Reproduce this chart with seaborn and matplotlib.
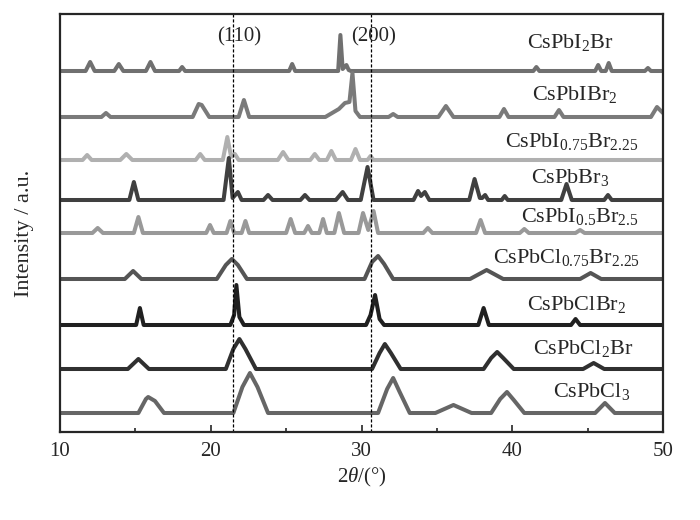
import pandas as pd
import matplotlib
matplotlib.use("Agg")
import matplotlib.pyplot as plt
from matplotlib.ticker import MultipleLocator
import seaborn as sns

# Зразки (згори вниз на графіку)
samples = ["CsPbI2Br", "CsPbIBr2", "CsPbI0.75Br2.25", "CsPbBr3", "CsPbI0.5Br2.5",
           "CsPbCl0.75Br2.25", "CsPbClBr2", "CsPbCl2Br", "CsPbCl3"]
labels = [r"CsPbI$_2$Br", r"CsPbIBr$_2$", r"CsPbI$_{0.75}$Br$_{2.25}$", r"CsPbBr$_3$",
          r"CsPbI$_{0.5}$Br$_{2.5}$", r"CsPbCl$_{0.75}$Br$_{2.25}$", r"CsPbClBr$_2$",
          r"CsPbCl$_2$Br", r"CsPbCl$_3$"]
offsets = [361, 315, 272, 232, 199, 153, 107, 63, 19]
colors = ["#707070", "#7a7a7a", "#b0b0b0", "#404040", "#999999",
          "#555555", "#202020", "#303030", "#666666"]

# Точки дифрактограм (2θ, інтенсивність над базовою лінією)
x_i2br = [10, 11.7, 12.0, 12.3, 13.6, 13.9, 14.2, 15.7, 16.0, 16.3, 17.9, 18.1, 18.3,
          25.2, 25.4, 25.6, 28.45, 28.6, 28.75, 29.0, 29.15, 29.3,
          41.4, 41.6, 41.8, 45.5, 45.7, 45.9, 46.2, 46.4, 46.6, 48.8, 49.0, 49.2, 50]
y_i2br = [0, 0, 9, 0, 0, 7, 0, 0, 9, 0, 0, 4, 0,
          0, 7, 0, 0, 36, 2, 6, 1, 0,
          0, 4, 0, 0, 6, 0, 0, 8, 0, 0, 3, 0, 0]

x_ibr2 = [10, 12.75, 13.05, 13.35, 18.8, 19.2, 19.4, 19.9, 21.85, 22.2, 22.55,
          27.6, 28.5, 28.9, 29.2, 29.4, 29.6, 29.9, 31.8, 32.1, 32.4, 35.1, 35.6, 36.1,
          39.15, 39.45, 39.75, 42.8, 43.1, 43.4, 49.2, 49.6, 50]
y_ibr2 = [0, 0, 4, 0, 0, 13, 12, 0, 0, 17, 0,
          0, 8, 14, 15, 44, 6, 0, 0, 3, 0, 0, 11, 0,
          0, 8, 0, 0, 7, 0, 0, 10, 4]

x_i075 = [10, 11.5, 11.8, 12.1, 14.0, 14.4, 14.8, 19.0, 19.3, 19.6, 20.8, 21.1, 21.35,
          21.6, 21.85, 24.45, 24.8, 25.15, 26.6, 26.9, 27.2, 27.7, 28.0, 28.3,
          29.3, 29.6, 29.9, 30.4, 30.6, 30.8, 50]
y_i075 = [0, 0, 5, 0, 0, 6, 0, 0, 6, 0, 0, 23, 3,
          6, 0, 0, 8, 0, 0, 6, 0, 0, 9, 0,
          0, 11, 0, 0, 4, 0, 0]

x_br3 = [10, 14.6, 14.9, 15.2, 20.85, 21.2, 21.45, 21.8, 22.05, 23.5, 23.8, 24.1,
         25.95, 26.25, 26.55, 28.3, 28.75, 29.1, 29.95, 30.4, 30.8,
         33.45, 33.75, 33.95, 34.2, 34.5, 37.15, 37.5, 37.85, 38.0, 38.2, 38.4,
         39.3, 39.5, 39.7, 43.25, 43.6, 43.95, 46.1, 46.35, 46.6, 50]
y_br3 = [0, 0, 18, 0, 0, 42, 2, 8, 0, 0, 5, 0,
         0, 5, 0, 0, 8, 0, 0, 33, 0,
         0, 9, 4, 8, 0, 0, 21, 2, 2, 5, 0,
         0, 4, 0, 0, 16, 0, 0, 5, 0, 0]

x_i05 = [10, 12.15, 12.5, 12.85, 14.9, 15.2, 15.5, 19.7, 19.95, 20.2, 21.05, 21.3, 21.55,
         22.05, 22.3, 22.55, 25.0, 25.3, 25.6, 26.2, 26.45, 26.7, 27.2, 27.45, 27.7,
         28.2, 28.5, 28.85, 29.8, 30.1, 30.45, 30.8, 31.1, 34.1, 34.4, 34.7,
         37.6, 37.9, 38.2, 40.5, 40.8, 41.1, 44.2, 44.5, 44.8, 50]
y_i05 = [0, 0, 5, 0, 0, 16, 0, 0, 8, 0, 0, 12, 0,
         0, 12, 0, 0, 14, 0, 0, 7, 0, 0, 14, 0,
         0, 20, 0, 0, 20, 3, 22, 0, 0, 5, 0,
         0, 13, 0, 0, 4, 0, 0, 3, 0, 0]

x_cl075 = [10, 14.3, 14.85, 15.4, 20.4, 21.0, 21.4, 21.8, 22.4, 30.2, 30.7, 31.1, 31.5, 32.1,
           37.2, 38.3, 39.4, 44.5, 45.2, 45.9, 50]
y_cl075 = [0, 0, 8, 0, 0, 14, 20, 14, 0, 0, 17, 23, 15, 0,
           0, 9, 0, 0, 6, 0, 0]

x_clbr2 = [10, 15.05, 15.3, 15.55, 21.3, 21.55, 21.7, 21.9, 22.2, 30.3, 30.6, 30.9, 31.2, 31.5,
           37.75, 38.1, 38.45, 43.9, 44.2, 44.5, 50]
y_clbr2 = [0, 0, 17, 0, 0, 10, 40, 8, 0, 0, 10, 30, 6, 0,
           0, 17, 0, 0, 6, 0, 0]

x_cl2br = [10, 14.5, 15.2, 15.9, 21.0, 21.5, 21.9, 22.3, 23.0, 30.7, 31.2, 31.55, 31.95, 32.6,
           38.1, 38.6, 39.0, 39.4, 40.1, 44.7, 45.4, 46.1, 50]
y_cl2br = [0, 0, 10, 0, 0, 20, 30, 20, 0, 0, 16, 25, 16, 0,
           0, 11, 17, 11, 0, 0, 6, 0, 0]

x_cl3 = [10, 15.2, 15.7, 15.85, 16.3, 16.9, 21.5, 22.1, 22.6, 23.1, 23.8,
         31.1, 31.7, 32.1, 32.5, 33.2, 34.9, 36.1, 37.3, 38.6, 39.2, 39.65, 40.1, 40.8,
         45.5, 46.15, 46.8, 50]
y_cl3 = [0, 0, 14, 16, 12, 0, 0, 26, 40, 26, 0,
         0, 24, 35, 22, 0, 0, 8, 0, 0, 14, 21, 13, 0,
         0, 10, 0, 0]

xs = [x_i2br, x_ibr2, x_i075, x_br3, x_i05, x_cl075, x_clbr2, x_cl2br, x_cl3]
ys = [y_i2br, y_ibr2, y_i075, y_br3, y_i05, y_cl075, y_clbr2, y_cl2br, y_cl3]

# Позиції підписів (2θ центру, інтенсивність базової лінії тексту)
label_x = [43.83, 44.16, 43.96, 43.83, 44.49, 43.63, 44.3, 44.69, 45.29]
label_y = [384, 332, 285, 249, 210, 169, 122, 78, 35]

rows = []
for name, off, xx, yy in zip(samples, offsets, xs, ys):
    for a, b in zip(xx, yy):
        rows.append({"sample": name, "two_theta": a, "intensity": b + off})
df = pd.DataFrame(rows)

sns.set_style("ticks")
plt.rcParams["font.family"] = ["Liberation Serif", "DejaVu Serif"]
plt.rcParams["mathtext.fontset"] = "custom"
plt.rcParams["mathtext.rm"] = "Liberation Serif"
plt.rcParams["mathtext.it"] = "Liberation Serif:italic"

fig = plt.figure(figsize=(7, 5.2), dpi=100)
ax = fig.add_axes([60 / 700, 88 / 520, 603 / 700, 418 / 520])

sns.lineplot(data=df, x="two_theta", y="intensity", hue="sample", hue_order=samples,
             palette=colors, legend=False, linewidth=2.9, errorbar=None, ax=ax)

# Положення рефлексів (110) і (200)
for pos in [21.5, 30.6]:
    ax.axvline(pos, color="black", linewidth=0.9, linestyle=(0, (2.5, 1.5)))
ax.text(21.9, 395, "(110)", ha="center", va="center", fontsize=15)
ax.text(30.8, 395, "(200)", ha="center", va="center", fontsize=15)

for lab, lx, ly in zip(labels, label_x, label_y):
    ax.text(lx, ly, lab, ha="center", va="baseline", fontsize=16)

ax.set_xlim(10, 50)
ax.set_ylim(0, 418)
ax.xaxis.set_major_locator(MultipleLocator(10))
ax.xaxis.set_minor_locator(MultipleLocator(5))
ax.tick_params(axis="x", which="major", direction="in", length=5, width=1.2, labelsize=15, pad=7)
ax.tick_params(axis="x", which="minor", direction="in", length=3, width=1.2)
ax.set_yticks([])
for sp in ax.spines.values():
    sp.set_linewidth(1.6)

ax.set_xlabel(r"2$\theta$/(°)", fontsize=15, labelpad=4)
ax.set_ylabel("Intensity / a.u.", fontsize=16)
ax.yaxis.set_label_coords(-0.043, 0.474)

fig.savefig("out.png", dpi=100)
